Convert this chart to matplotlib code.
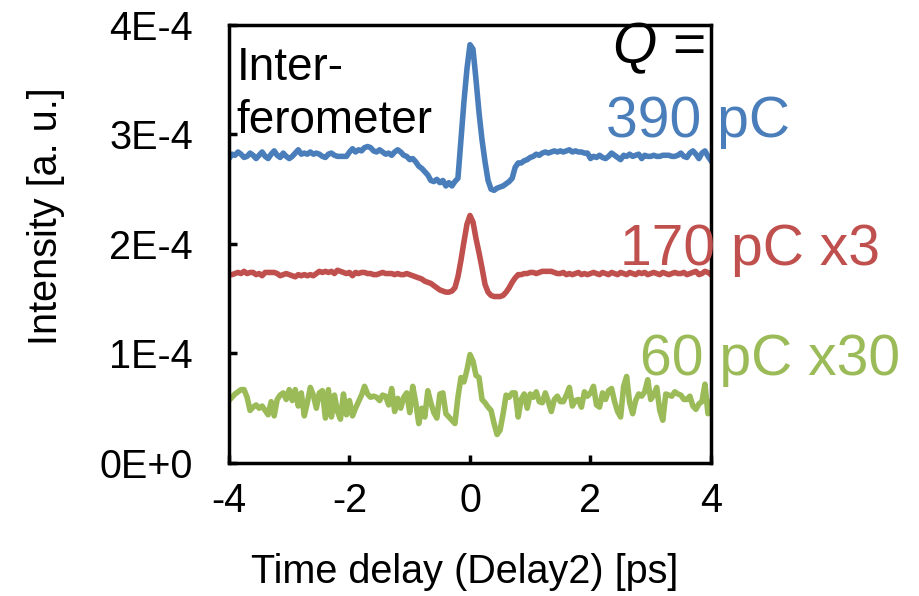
import matplotlib
matplotlib.use('Agg')
import matplotlib.pyplot as plt
import numpy as np

# -------- data (in units of 1E-4) --------
delay = np.linspace(-4, 4, 161)   # ps, 0.05 ps step

q390 = [2.78, 2.82, 2.81, 2.84, 2.82, 2.79, 2.80, 2.83, 2.81, 2.78,
        2.81, 2.84, 2.80, 2.78, 2.82, 2.85, 2.81, 2.79, 2.83, 2.80,
        2.78, 2.80, 2.83, 2.86, 2.82, 2.83, 2.82, 2.84, 2.82, 2.83,
        2.82, 2.80, 2.79, 2.82, 2.83, 2.81, 2.80, 2.80, 2.80, 2.80,
        2.84, 2.87, 2.84, 2.86, 2.85, 2.88, 2.89, 2.88, 2.85, 2.84,
        2.86, 2.84, 2.82, 2.83, 2.81, 2.84, 2.86, 2.84, 2.81, 2.80,
        2.77, 2.78, 2.75, 2.71, 2.69, 2.66, 2.63, 2.58, 2.57, 2.59,
        2.56, 2.58, 2.53, 2.56, 2.53, 2.57, 2.60, 2.95, 3.30, 3.60,
        3.82, 3.78, 3.50, 3.20, 2.95, 2.75, 2.58, 2.50, 2.49, 2.51,
        2.52, 2.53, 2.55, 2.57, 2.60, 2.70, 2.74, 2.74, 2.76, 2.77,
        2.79, 2.80, 2.82, 2.81, 2.83, 2.84, 2.83, 2.84, 2.85, 2.84,
        2.85, 2.84, 2.85, 2.86, 2.84, 2.85, 2.84, 2.84, 2.83, 2.83,
        2.78, 2.80, 2.79, 2.81, 2.79, 2.78, 2.80, 2.83, 2.81, 2.79,
        2.77, 2.81, 2.80, 2.82, 2.80, 2.81, 2.82, 2.78, 2.81, 2.80,
        2.80, 2.81, 2.80, 2.80, 2.81, 2.81, 2.81, 2.80, 2.80, 2.81,
        2.83, 2.80, 2.79, 2.83, 2.85, 2.82, 2.78, 2.83, 2.85, 2.80, 2.76]

q170 = [1.72, 1.72, 1.73, 1.74, 1.73, 1.75, 1.73, 1.74, 1.74, 1.72,
        1.73, 1.71, 1.74, 1.74, 1.74, 1.74, 1.73, 1.71, 1.72, 1.73,
        1.72, 1.71, 1.70, 1.72, 1.71, 1.72, 1.71, 1.72, 1.71, 1.73,
        1.75, 1.74, 1.75, 1.74, 1.75, 1.73, 1.76, 1.75, 1.74, 1.73,
        1.74, 1.71, 1.74, 1.73, 1.74, 1.74, 1.73, 1.73, 1.72, 1.72,
        1.73, 1.74, 1.73, 1.73, 1.73, 1.72, 1.73, 1.72, 1.72, 1.73,
        1.72, 1.71, 1.70, 1.69, 1.68, 1.66, 1.65, 1.64, 1.62, 1.60,
        1.58, 1.57, 1.56, 1.56, 1.57, 1.60, 1.70, 1.85, 2.02, 2.18,
        2.26, 2.20, 2.05, 1.92, 1.78, 1.63, 1.56, 1.53, 1.52, 1.52,
        1.52, 1.53, 1.56, 1.60, 1.65, 1.69, 1.72, 1.72, 1.73, 1.73,
        1.74, 1.74, 1.73, 1.74, 1.75, 1.75, 1.75, 1.75, 1.74, 1.73,
        1.73, 1.74, 1.72, 1.73, 1.72, 1.73, 1.74, 1.72, 1.73, 1.72,
        1.73, 1.74, 1.73, 1.72, 1.74, 1.73, 1.72, 1.74, 1.73, 1.72,
        1.74, 1.73, 1.72, 1.74, 1.73, 1.72, 1.74, 1.73, 1.74, 1.72,
        1.73, 1.74, 1.73, 1.72, 1.74, 1.73, 1.72, 1.73, 1.74, 1.73,
        1.73, 1.74, 1.72, 1.73, 1.74, 1.75, 1.72, 1.73, 1.75, 1.74, 1.72]

q60 = [0.57, 0.60, 0.63, 0.65, 0.67, 0.67, 0.60, 0.48, 0.51, 0.53,
       0.50, 0.52, 0.48, 0.44, 0.56, 0.43, 0.58, 0.62, 0.64, 0.58,
       0.67, 0.57, 0.67, 0.52, 0.64, 0.43, 0.55, 0.69, 0.62, 0.50,
       0.64, 0.66, 0.41, 0.67, 0.42, 0.62, 0.47, 0.40, 0.63, 0.44,
       0.57, 0.43, 0.50, 0.56, 0.62, 0.70, 0.63, 0.60, 0.61, 0.60,
       0.57, 0.62, 0.61, 0.53, 0.68, 0.47, 0.59, 0.50, 0.60, 0.64,
       0.46, 0.70, 0.55, 0.36, 0.50, 0.42, 0.66, 0.55, 0.46, 0.41,
       0.63, 0.64, 0.45, 0.42, 0.39, 0.36, 0.60, 0.78, 0.74, 0.85,
       0.99, 0.93, 0.80, 0.78, 0.58, 0.55, 0.51, 0.48, 0.36, 0.26,
       0.30, 0.45, 0.62, 0.60, 0.64, 0.64, 0.42, 0.58, 0.63, 0.50,
       0.63, 0.60, 0.65, 0.56, 0.55, 0.64, 0.56, 0.47, 0.58, 0.61,
       0.56, 0.56, 0.62, 0.69, 0.52, 0.57, 0.58, 0.51, 0.65, 0.61,
       0.64, 0.70, 0.53, 0.51, 0.64, 0.58, 0.66, 0.68, 0.56, 0.47,
       0.42, 0.70, 0.79, 0.55, 0.45, 0.57, 0.63, 0.61, 0.65, 0.76,
       0.58, 0.62, 0.69, 0.48, 0.39, 0.63, 0.62, 0.61, 0.65, 0.63,
       0.62, 0.58, 0.58, 0.61, 0.52, 0.49, 0.54, 0.56, 0.72, 0.45, 0.55]

xticks = [-4, -2, 0, 2, 4]
xtick_labels = ['-4', '-2', '0', '2', '4']
yticks = [0, 1e-4, 2e-4, 3e-4, 4e-4]
ytick_labels = ['0E+0', '1E-4', '2E-4', '3E-4', '4E-4']

series = [(q390, '#4A7EBB', '390 pC'),
          (q170, '#C0504D', '170 pC x3'),
          (q60, '#9BBB59', '60 pC x30')]

# -------- style --------
plt.rcParams['font.family'] = ['Liberation Sans', 'DejaVu Sans']
plt.rcParams['mathtext.fontset'] = 'custom'
plt.rcParams['mathtext.it'] = 'Liberation Sans:italic'
plt.rcParams['mathtext.rm'] = 'Liberation Sans'

fig = plt.figure(figsize=(9.2, 5.96), dpi=100)
ax = fig.add_axes([0.2489, 0.2232, 0.5239, 0.7349])

for vals, col, _ in series:
    ax.plot(delay, np.array(vals) * 1e-4, color=col, lw=4, solid_joinstyle='round')

ax.set_xlim(-4, 4)
ax.set_ylim(0, 4e-4)
ax.set_xticks(xticks)
ax.set_xticklabels(xtick_labels)
ax.set_yticks(yticks)
ax.set_yticklabels(ytick_labels)

for s in ax.spines.values():
    s.set_linewidth(2.5)
    s.set_color('black')
ax.tick_params(axis='both', direction='in', length=6, width=2.5, labelsize=28.5)
ax.tick_params(axis='y', pad=26)
ax.tick_params(axis='x', pad=14)

fig.text(465 / 920, 1 - 572 / 596, 'Time delay (Delay2) [ps]', fontsize=28.5,
         ha='center', va='center')
fig.text(46 / 920, 1 - 216 / 596, 'Intensity [a. u.]', fontsize=28.5,
         rotation=90, ha='center', va='center')

# -------- annotations --------
ax.text(-3.87, 3.50e-4, 'Inter-', fontsize=33, ha='left', va='baseline')
ax.text(-3.87, 3.01e-4, 'ferometer', fontsize=33, ha='left', va='baseline')
ax.text(3.90, 3.65e-4, '$Q$ =', fontsize=41, ha='right', va='baseline')

label_pos = [(5.31, 2.98e-4), (6.80, 1.81e-4), (7.14, 0.80e-4)]
for (vals, col, lab), (lx, ly) in zip(series, label_pos):
    ax.text(lx, ly, lab, color=col, fontsize=41, ha='right', va='baseline',
            clip_on=False)

fig.savefig('out.png', dpi=100)
